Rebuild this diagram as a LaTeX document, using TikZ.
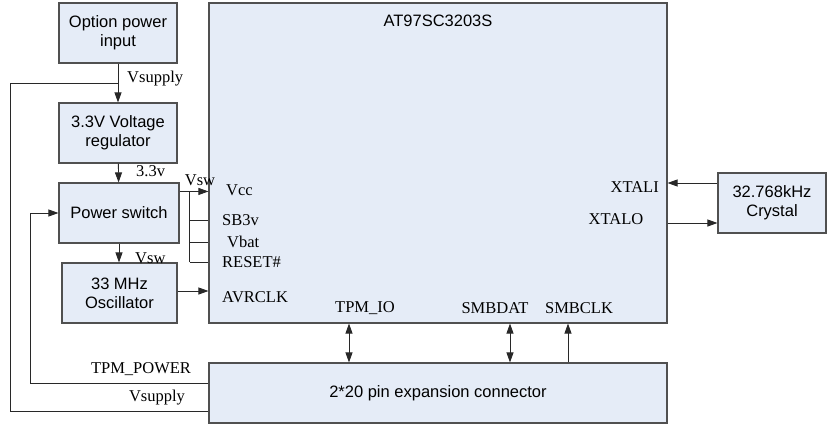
\documentclass[tikz,border=0pt]{standalone}
\usepackage{fontspec}
\setmainfont{Liberation Serif}
\setsansfont{Liberation Sans}
\usepackage{xcolor}
\usetikzlibrary{positioning,arrows.meta,calc}
\definecolor{boxfill}{RGB}{229,236,247}
\definecolor{boxline}{RGB}{80,80,80}
\definecolor{wire}{RGB}{40,40,40}

\begin{document}
\begin{tikzpicture}[
  x=1pt, y=-1pt,
  box/.style={draw=boxline, fill=boxfill, line width=1.1pt, align=center, inner sep=0pt, font=\sffamily\fontsize{16.5}{19}\selectfont},
  pin/.style={inner sep=1pt, font=\fontsize{16.5}{18}\selectfont},
  wireline/.style={draw=wire, line width=0.9pt},
  arr/.style={wireline, -{Triangle[length=10pt,width=7pt]}},
  darr/.style={wireline, {Triangle[length=10pt,width=7pt]}-{Triangle[length=10pt,width=7pt]}}
]
\useasboundingbox (0,0) rectangle (828,424);

\node[box, minimum width=458pt, minimum height=320pt] (chip) at (438,163) {};
\node[inner sep=0pt, font=\sffamily\fontsize{16.5}{19}\selectfont] (title) at (438,21) {AT97SC3203S};
\node[box, minimum width=118pt, minimum height=60pt] (opi) at (118,33) {Option power\\input};
\node[box, minimum width=118pt, minimum height=60pt] (reg) at (118,133) {3.3V Voltage\\regulator};
\node[box, minimum width=120pt, minimum height=60pt] (psw) at (119,213) {Power switch};
\node[box, minimum width=115pt, minimum height=60pt] (osc) at (119.5,293) {33 MHz\\Oscillator};
\node[box, minimum width=108pt, minimum height=60pt] (xtal) at (772,203) {32.768kHz\\Crystal};
\node[box, minimum width=458pt, minimum height=60pt] (conn) at (438,393) {2*20 pin expansion connector};

\node[pin, anchor=west] (vcc) at (225,190) {Vcc};
\node[pin, anchor=west] (sb3v) at (221,220) {SB3v};
\node[pin, anchor=west] (vbat) at (226,242) {Vbat};
\node[pin, anchor=west] (reset) at (221,262) {RESET\#};
\node[pin, anchor=west] (avrclk) at (221,297) {AVRCLK};
\node[pin, anchor=east] (xtali) at (660,187) {XTALI};
\node[pin] (xtalo) at (616,219) {XTALO};
\node[pin] (tpmio) at (365,308) {TPM\_IO};
\node[pin] (smbdat) at (495,308) {SMBDAT};
\node[pin] (smbclk) at (579,308) {SMBCLK};

\node[pin, anchor=west] (lvsup) at (126,79) {Vsupply};
\node[pin, anchor=west] (l33) at (135,171) {3.3v};
\node[pin] (lvsw) at (200,180) {Vsw};
\node[pin, anchor=west] (lvsw2) at (134,258) {Vsw};
\node[pin] (ltpmp) at (141,369) {TPM\_POWER};
\node[pin] (lvsup2) at (157,398) {Vsupply};

\coordinate (tap) at ($(opi.south)!0.5!(reg.north)$);
\coordinate (pswout) at ($(psw.north east)+(0,9)$);
\coordinate (br) at ($(pswout)+(10,0)$);
\coordinate (ctp) at ($(conn.west)+(0,-10)$);
\coordinate (cvs) at ($(conn.west)+(0,18)$);

\draw[arr] (opi) -- (reg);
\draw[arr] (reg) -- (psw);
\draw[arr] (psw) -- (osc.north -| psw.south);
\draw[arr] (pswout) -- (chip.west |- pswout);
\draw[wireline] (br) -- (br |- reset.west);
\draw[wireline] (br |- sb3v.west) -- (chip.west |- sb3v.west);
\draw[wireline] (br |- vbat.west) -- (chip.west |- vbat.west);
\draw[wireline] (br |- reset.west) -- (chip.west |- reset.west);
\draw[arr] ($(osc.east)+(0,-2)$) -- ($(chip.west |- osc.east)+(0,-2)$);
\draw[arr] (ctp) -- (30,383) |- (psw.west);
\draw[wireline] (cvs) -- (10,411) |- (tap);
\draw[arr] ($(xtal.west)+(0,-20)$) -- ($(chip.east |- xtal.west)+(0,-20)$);
\draw[arr] ($(chip.east |- xtal.west)+(0,20)$) -- ($(xtal.west)+(0,20)$);
\draw[darr] (chip.south -| 349,0) -- (conn.north -| 349,0);
\draw[darr] (chip.south -| 510,0) -- (conn.north -| 510,0);
\draw[arr] (conn.north -| 568,0) -- (chip.south -| 568,0);
\end{tikzpicture}
\end{document}
